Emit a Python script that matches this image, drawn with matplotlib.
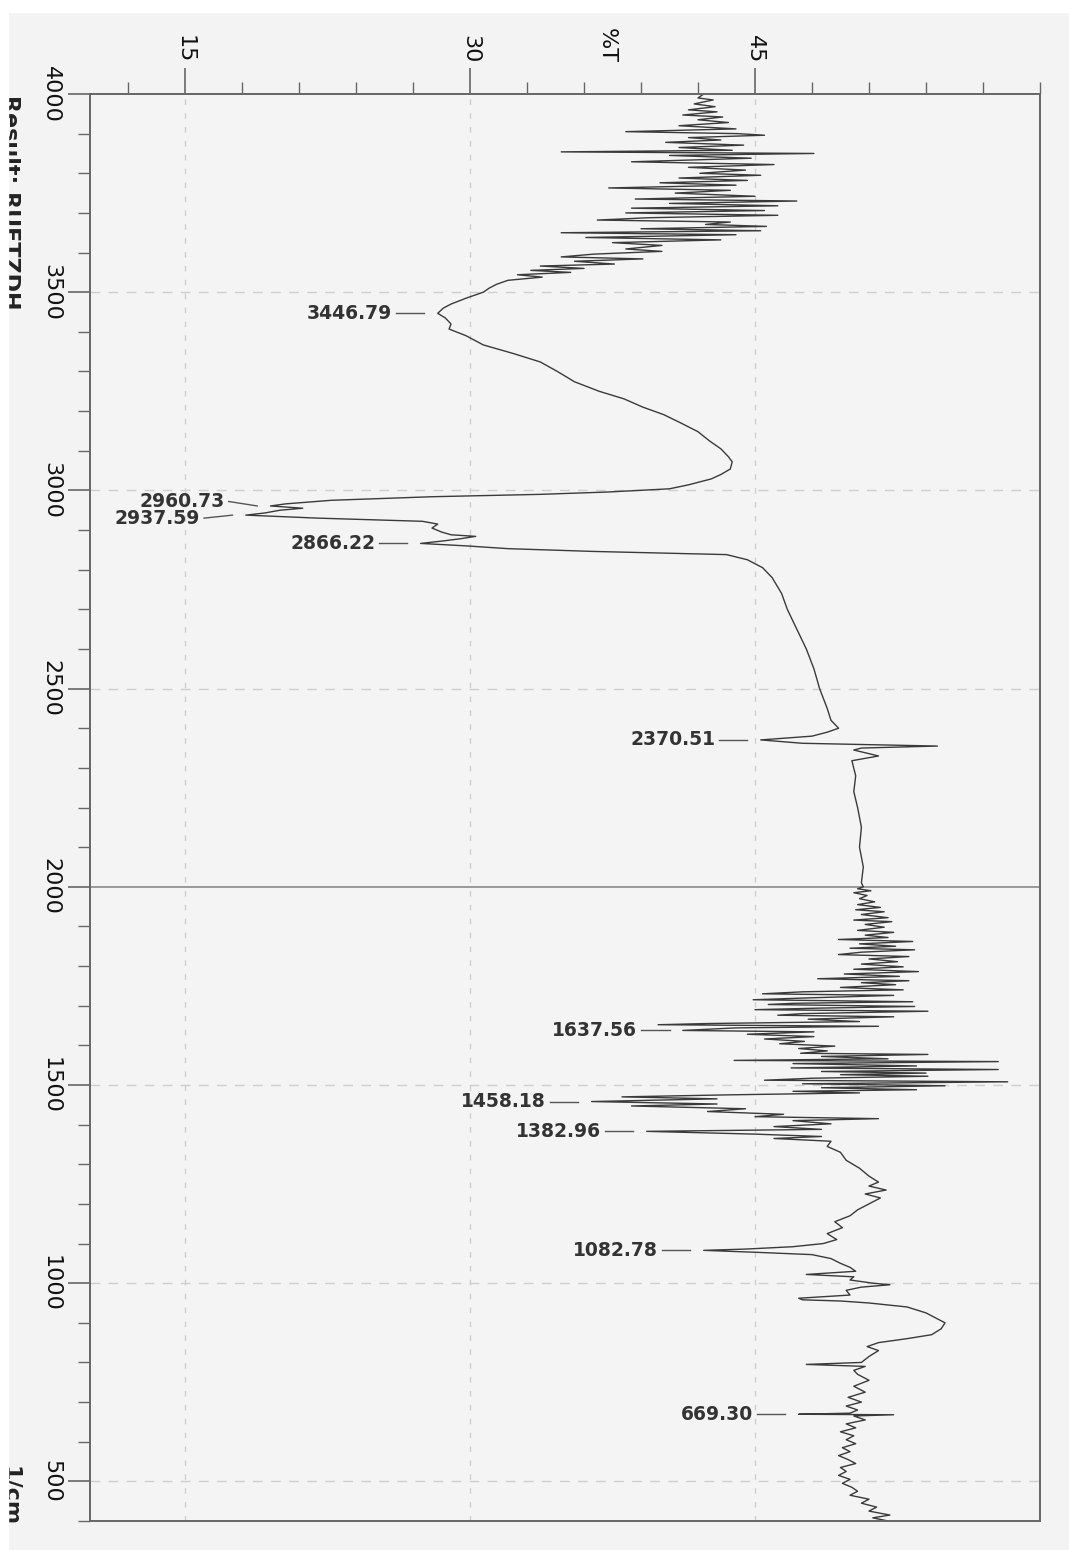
import matplotlib.pyplot as plt
import matplotlib.patches as mpatches
from matplotlib.ticker import MultipleLocator
import numpy as np

# IR spectrum, drawn rotated: %T runs left->right, wavenumber top->bottom
# O-H region, noisy part (cm-1, %T)
wn_noise = [4000, 3990, 3985, 3975, 3968, 3960, 3955, 3947, 3942, 3935,
            3928, 3920, 3912, 3905, 3900, 3896, 3890, 3884, 3878, 3871,
            3865, 3858, 3854, 3850, 3845, 3838, 3829, 3822, 3815, 3808,
            3800, 3795, 3788, 3782, 3776, 3770, 3763, 3757, 3750, 3742,
            3735, 3730, 3724, 3718, 3712, 3706, 3700, 3694, 3688, 3682,
            3677, 3671, 3666, 3660, 3655, 3650, 3645, 3638, 3632, 3625,
            3618, 3609, 3603, 3596, 3589, 3584, 3578, 3571, 3566, 3560,
            3555, 3550, 3544, 3538]
t_noise = [42.3, 42.0, 42.8, 41.8, 42.9, 41.5, 43.0, 41.2, 43.3, 42.0,
           43.6, 41.0, 44.0, 38.2, 44.1, 45.5, 41.5, 43.2, 40.3, 44.4,
           41.0, 43.8, 34.8, 48.1, 40.5, 44.8, 38.5, 46.0, 41.5, 44.5,
           42.1, 45.3, 41.0, 44.6, 40.0, 44.0, 37.3, 43.7, 40.8, 45.0,
           38.7, 47.2, 40.5, 46.2, 38.5, 45.5, 38.2, 46.2, 39.5, 36.7,
           43.7, 42.4, 45.6, 39.0, 45.3, 34.8, 44.0, 36.1, 43.2, 37.5,
           40.1, 38.2, 40.1, 36.5, 34.8, 39.1, 35.5, 37.6, 33.7, 36.0,
           33.2, 35.3, 32.5, 33.8]

# O-H band and C-H stretches
wn_ch = [3530, 3520, 3510, 3500, 3485, 3470, 3460, 3446.79, 3435, 3420,
         3407, 3390, 3367, 3345, 3324, 3300, 3274, 3250, 3231, 3210,
         3191, 3170, 3148, 3125, 3105, 3085, 3072, 3054, 3040, 3029,
         3014, 3004, 2996, 2990, 2984, 2975, 2966, 2960.73, 2955, 2950,
         2943, 2937.59, 2930, 2922, 2915, 2905, 2895, 2888, 2884, 2878,
         2872, 2866.22, 2860, 2853, 2846, 2838]
t_ch = [32.0, 31.4, 31.0, 30.7, 29.8, 29.0, 28.6, 28.3, 28.7, 29.0,
        28.9, 29.8, 30.7, 32.3, 33.7, 34.6, 35.5, 36.8, 38.1, 39.1,
        40.2, 41.1, 42.0, 42.6, 43.2, 43.6, 43.8, 43.7, 43.2, 42.7,
        41.5, 40.5, 37.3, 33.7, 28.0, 22.7, 20.3, 19.5, 21.2, 20.0,
        19.2, 18.2, 22.0, 27.5, 28.3, 28.0, 28.5, 29.0, 30.3, 29.5,
        28.5, 27.4, 29.8, 32.0, 36.5, 43.5]

# 2825 - 2000
wn_mid = [2825, 2805, 2780, 2740, 2700, 2650, 2600, 2550, 2500, 2450,
          2420, 2400, 2390, 2380, 2370.51, 2362, 2355, 2350, 2345, 2330,
          2318, 2280, 2240, 2200, 2150, 2100, 2050, 2010]
t_mid = [44.6, 45.4, 45.9, 46.4, 46.7, 47.2, 47.7, 48.1, 48.4, 48.8,
         49.0, 49.4, 48.8, 48.0, 45.3, 47.5, 54.6, 50.6, 50.2, 51.5,
         50.1, 50.3, 50.2, 50.4, 50.6, 50.5, 50.7, 50.6]

# 2000 - 1465, noisy water region
wn_water = [2000, 1995, 1990, 1985, 1978, 1970, 1962, 1955, 1948, 1942,
            1937, 1930, 1922, 1916, 1912, 1905, 1898, 1890, 1885, 1878,
            1872, 1867, 1862, 1856, 1850, 1845, 1841, 1835, 1829, 1824,
            1818, 1811, 1805, 1798, 1792, 1786, 1780, 1774, 1768, 1763,
            1758, 1753, 1746, 1740, 1735, 1730, 1726, 1720, 1715, 1710,
            1706, 1703, 1698, 1694, 1690, 1686, 1680, 1676, 1672, 1666,
            1660, 1655, 1652, 1648, 1644, 1637.56, 1634, 1628, 1622, 1616,
            1610, 1604, 1598, 1592, 1586, 1580, 1577, 1572, 1566, 1562,
            1559, 1554, 1548, 1543, 1539, 1534, 1530, 1526, 1522, 1517,
            1512, 1508, 1503, 1498, 1493, 1488, 1484, 1480, 1475, 1470,
            1465]
t_water = [50.7, 50.4, 51.1, 50.2, 50.9, 50.5, 51.3, 50.4, 51.6, 50.3,
           51.8, 50.6, 52.0, 50.2, 52.2, 50.8, 51.8, 50.4, 52.3, 50.8,
           52.0, 49.4, 53.3, 50.5, 52.4, 50.0, 53.4, 50.6, 49.4, 53.1,
           51.0, 52.5, 50.6, 52.8, 50.2, 53.6, 49.7, 52.6, 48.3, 53.1,
           50.6, 52.4, 49.5, 52.8, 47.5, 45.4, 52.3, 48.0, 44.9, 53.3,
           47.0, 45.7, 53.4, 48.5, 45.0, 54.1, 47.5, 46.2, 52.3, 47.8,
           50.5, 42.5, 39.9, 51.5, 44.0, 41.2, 48.1, 44.6, 48.1, 45.5,
           47.6, 46.3, 49.2, 47.3, 48.8, 47.4, 54.1, 48.5, 52.0, 43.9,
           57.8, 47.0, 53.5, 46.9, 57.8, 48.5, 54.0, 49.5, 54.1, 48.0,
           45.5, 58.3, 47.5, 55.0, 48.5, 53.5, 47.0, 50.5, 43.5, 38.0,
           43.0]

# fingerprint 1458 - 400
wn_fp = [1458.18, 1452, 1447, 1440, 1433, 1426, 1420, 1415, 1410, 1402,
         1395, 1388, 1382.96, 1376, 1370, 1365, 1358, 1345, 1330, 1310,
         1290, 1270, 1255, 1245, 1235, 1225, 1215, 1200, 1185, 1170,
         1155, 1140, 1125, 1110, 1100, 1092, 1086, 1082.78, 1078, 1072,
         1062, 1050, 1040, 1030, 1022, 1016, 1008, 1000, 996, 990,
         982, 970, 962, 958, 955, 950, 940, 925, 910, 900,
         885, 870, 860, 850, 840, 830, 815, 800, 795, 790,
         780, 770, 755, 740, 725, 712, 700, 690, 680, 672,
         669.3, 668, 665, 655, 645, 635, 625, 615, 605, 595,
         585, 575, 565, 555, 545, 535, 525, 515, 505, 495,
         485, 475, 465, 455, 445, 435, 425, 415, 408, 400]
t_fp = [36.4, 43.0, 38.5, 44.5, 42.5, 46.5, 45.0, 51.5, 47.0, 49.0,
        46.0, 48.5, 39.3, 45.0, 48.5, 46.0, 49.0, 48.8, 49.5, 49.8,
        50.5, 51.0, 51.5, 51.0, 51.9, 50.8, 51.6, 51.0, 50.4, 50.0,
        49.2, 49.6, 48.8, 49.3, 48.6, 47.0, 44.5, 42.3, 45.0, 48.0,
        49.0, 49.5, 50.0, 50.3, 47.7, 50.2, 50.0, 51.2, 52.1, 50.6,
        49.8, 50.0, 47.3, 47.5, 49.5, 51.0, 53.0, 54.0, 54.6, 55.0,
        54.8, 54.3, 53.0, 51.5, 50.9, 51.5, 51.0, 50.6, 47.7, 50.8,
        50.2, 50.4, 51.0, 50.2, 50.8, 49.9, 50.6, 49.8, 50.4, 50.0,
        47.3, 52.3, 50.2, 50.8, 49.8, 50.3, 49.5, 50.2, 49.8, 50.3,
        49.6, 50.0, 49.4, 49.9, 50.3, 49.5, 49.8, 49.4, 50.0, 49.6,
        50.1, 50.4, 50.0, 51.0, 50.6, 51.4, 51.0, 52.1, 51.2, 52.0]

# labelled peaks (label row position differs where two labels would collide)
peak_wn = [3446.79, 2960.73, 2937.59, 2866.22, 2370.51,
           1637.56, 1458.18, 1382.96, 1082.78, 669.30]
peak_t = [28.3, 19.5, 18.2, 27.4, 45.3, 41.2, 36.4, 39.3, 42.3, 47.3]
label_wn = [3446.79, 2972, 2930, 2866.22, 2370.51,
            1637.56, 1458.18, 1382.96, 1082.78, 669.30]

wavenumber = np.concatenate([wn_noise, wn_ch, wn_mid, wn_water, wn_fp])
transmittance = np.concatenate([t_noise, t_ch, t_mid, t_water, t_fp])

W, H = 1069, 1550
fig = plt.figure(figsize=(W / 100, H / 100), dpi=100, facecolor='#f3f3f3')
# white scan margins (drawn over the clipped header text)
fig.patches.append(mpatches.Rectangle((0, 1 - 12 / H), 1, 12 / H, transform=fig.transFigure,
                                      color='white', zorder=10))
fig.patches.append(mpatches.Rectangle((0, 0), 8 / W, 1, transform=fig.transFigure,
                                      color='white', zorder=10))

ax = fig.add_axes([90 / W, 1 - 1521 / H, 950 / W, 1427 / H])
ax.set_facecolor('#f4f4f4')
ax.set_xlim(10, 60)
ax.set_ylim(400, 4000)

for s in ax.spines.values():
    s.set_color('#666666')
    s.set_linewidth(1.4)

# grid
for v in [15, 30, 45]:
    ax.axvline(v, color='#cfcfcf', lw=1, dashes=(4, 6), zorder=0)
for h in [500, 1000, 1500, 2500, 3000, 3500]:
    ax.axhline(h, color='#cfcfcf', lw=1, dashes=(7, 6), zorder=0)
ax.axhline(2000, color='#8a8a8a', lw=1.2, zorder=0)

ax.plot(transmittance, wavenumber, color='#3a3a3a', lw=1.0, zorder=2)

for w, t, lw_ in zip(peak_wn, peak_t, label_wn):
    ax.plot([t - 2.2, t - 0.7], [lw_, w], color='#555555', lw=1.0, zorder=3)
    ax.text(t - 2.4, lw_, f'{w:.2f}', ha='right', va='center', fontsize=13.5,
            fontweight='bold', color='#333333', zorder=4)

# ticks
ax.xaxis.tick_top()
ax.set_xticks([15, 30, 45])
ax.xaxis.set_minor_locator(MultipleLocator(3))
ax.yaxis.set_major_locator(MultipleLocator(500))
ax.yaxis.set_minor_locator(MultipleLocator(100))
ax.tick_params(axis='x', which='major', direction='out', length=18.5, width=1.2,
               color='#666666', pad=3.5, labelsize=16, labelcolor='#111111',
               labelrotation=-90)
ax.tick_params(axis='x', which='minor', direction='out', length=8.5, width=1.0,
               color='#666666')
ax.tick_params(axis='y', which='major', direction='out', length=16, width=1.2,
               color='#666666', pad=5, labelsize=16, labelcolor='#111111',
               labelrotation=-90)
ax.tick_params(axis='y', which='minor', direction='out', length=8.5, width=1.0,
               color='#666666')
for lab in ax.get_yticklabels():
    lab.set_verticalalignment('center')

ax.text(37.2, 1.034, '%T', transform=ax.get_xaxis_transform(), rotation=-90,
        ha='center', va='center', fontsize=16, color='#111111')

# header text of the scan, cut by the page edge
fig.text(10 / W, 1 - 95 / H, 'Result: RUETZDH', rotation=-90, ha='center', va='top',
         fontsize=16, fontweight='bold', color='#222222', zorder=5)
fig.text(10 / W, 1 - 1466 / H, '1/cm', rotation=-90, ha='center', va='top',
         fontsize=16, fontweight='bold', color='#222222', zorder=5)

fig.savefig('out.png', dpi=100, facecolor=fig.get_facecolor())
